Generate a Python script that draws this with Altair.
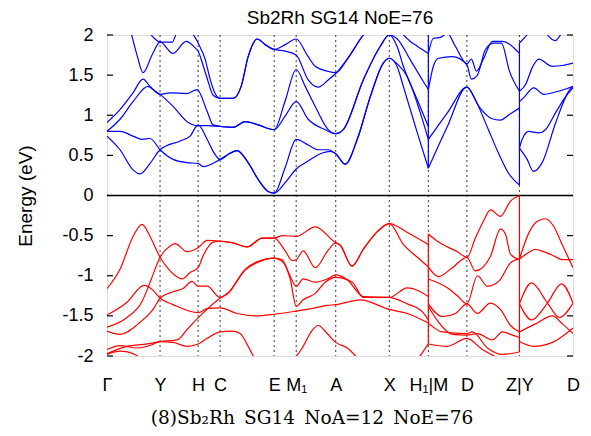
import altair as alt
import pandas as pd

# ---- path coordinates of the high-symmetry points ----
kpoints = [0, 53, 91, 113, 167, 189, 228.5, 282, 321, 359.5, 412, 465.5]
klabels = ["Γ", "Y", "H", "C", "E", "M₁", "A", "X", "H₁|M", "D", "Z|Y", "D"]
jumps = [321, 412]
ytick_values = [-2, -1.5, -1, -0.5, 0, 0.5, 1, 1.5, 2]

title_text = "Sb2Rh SG14 NoE=76"
caption_text = "(8)Sb₂Rh\u2002SG14\u2002NoA=12\u2002NoE=76"

# ---- conduction bands (k, E in eV) ----
conduction = {
    "cA1": ([0, 13, 26, 33, 43, 53, 73, 83, 91, 100, 106, 113, 122, 130, 141, 151, 161, 167, 178, 189, 201, 215, 223, 228.5, 238, 250, 263, 276, 282, 290, 296, 310, 321],
            [0.74, 0.57, 0.32, 0.27, 0.40, 0.57, 0.68, 0.74, 0.88, 0.70, 0.55, 0.45, 0.52, 0.56, 0.41, 0.20, 0.05, 0.03, 0.16, 0.33, 0.43, 0.53, 0.55, 0.52, 0.39, 0.70, 1.23, 1.65, 1.71, 1.60, 1.36, 0.78, 0.34]),
    "cA2": ([0, 13, 26, 35, 43, 53, 66, 80, 91, 96, 113, 122, 130, 141, 151, 161, 167, 178, 189, 201, 211, 221, 228.5, 238, 250, 263, 276, 282, 290, 300, 313, 321],
            [0.80, 0.80, 0.74, 0.70, 0.71, 0.57, 0.45, 0.41, 0.40, 0.36, 0.45, 0.52, 0.56, 0.41, 0.20, 0.05, 0.03, 0.35, 0.70, 0.63, 0.57, 0.57, 0.52, 0.39, 0.70, 1.23, 1.65, 1.71, 1.64, 1.48, 1.03, 0.70]),
    "cA3": ([0, 13, 26, 41, 46, 53, 66, 80, 91, 100, 113, 126, 138, 151, 167, 178, 189, 201, 218, 228.5, 236, 256, 273, 282, 290, 296, 310, 321],
            [0.80, 0.95, 1.17, 1.36, 1.32, 1.26, 1.11, 0.92, 0.87, 0.87, 0.86, 0.85, 0.92, 0.88, 0.82, 0.99, 1.17, 0.95, 0.82, 0.77, 0.82, 1.44, 1.86, 2.00, 1.85, 1.61, 1.19, 0.86]),
    "cA4": ([0, 13, 26, 36, 43, 53, 63, 80, 90, 100, 106, 113, 126, 138, 151, 167, 178, 189, 198, 208, 221, 228.5, 236, 256, 273, 282, 290, 303, 316, 321],
            [0.91, 1.07, 1.28, 1.45, 1.36, 1.26, 1.28, 1.27, 1.32, 1.05, 0.88, 0.86, 0.85, 0.92, 0.88, 0.82, 1.18, 1.57, 1.36, 1.11, 0.82, 0.77, 0.82, 1.44, 1.86, 2.00, 1.95, 1.69, 1.42, 1.32]),
    "cA5": ([0, 20, 25, 30, 36, 45, 53, 66, 79, 88, 91, 96, 101, 106, 113, 126, 134, 141, 150, 158, 167, 178, 189, 201, 211, 221, 228.5, 240, 256, 270, 282, 293, 303, 310, 321],
            [2.6, 2.2, 1.98, 1.75, 1.53, 1.75, 1.91, 1.77, 1.92, 1.84, 1.80, 1.62, 1.42, 1.25, 1.21, 1.21, 1.36, 1.73, 1.95, 1.88, 1.82, 1.80, 1.75, 1.44, 1.35, 1.44, 1.52, 1.70, 2.0, 2.2, 2.3, 2.05, 1.92, 1.86, 1.77]),
    "cA6": ([0, 30, 41, 48, 53, 65, 71, 80, 88, 91, 98, 103, 108, 113, 126, 134, 141, 150, 158, 167, 178, 189, 200, 208, 220, 228.5, 240, 256, 282, 321],
            [3.0, 2.3, 2.05, 1.95, 1.91, 1.91, 2.05, 2.05, 1.97, 1.90, 1.70, 1.45, 1.27, 1.21, 1.21, 1.36, 1.73, 1.95, 1.88, 1.82, 1.88, 1.95, 1.75, 1.61, 1.55, 1.53, 1.70, 2.0, 2.3, 2.2]),
    "cB1": ([321, 340, 359.5, 368, 381, 391, 401, 412],
            [0.34, 0.86, 1.35, 1.19, 0.82, 0.53, 0.28, 0.13]),
    "cB2": ([321, 340, 359.5, 372, 384, 393, 403, 412],
            [0.70, 1.03, 1.35, 1.10, 0.96, 0.94, 1.02, 1.09]),
    "cB3": ([321, 326, 331, 345, 359.5, 364, 370, 378, 386, 394, 402, 412],
            [1.32, 1.61, 1.71, 1.73, 1.63, 1.45, 1.50, 1.82, 1.90, 1.90, 1.55, 1.30]),
    "cB4": ([321, 326, 333, 340, 348, 359.5, 364, 369, 376, 385, 395, 412],
            [1.77, 1.96, 1.97, 2.02, 1.86, 1.64, 1.70, 1.55, 1.70, 1.92, 1.92, 1.77]),
    "cC1": ([412, 419.7, 426, 434.7, 448, 461.3, 465.5],
            [0.59, 0.45, 0.30, 0.41, 0.90, 1.30, 1.36]),
    "cC2": ([412, 414.7, 421.3, 431.3, 438, 448, 458, 465.5],
            [0.59, 0.70, 0.80, 0.78, 0.82, 1.03, 1.23, 1.34]),
    "cC3": ([412, 416.3, 426.3, 436.3, 448, 459, 465.5],
            [1.17, 1.22, 1.34, 1.26, 1.29, 1.33, 1.36]),
    "cC4": ([412, 418, 425, 431.3, 444.7, 455, 465.5],
            [1.30, 1.38, 1.60, 1.70, 1.61, 1.62, 1.65]),
    "cC5": ([412, 418, 425],
            [1.90, 1.98, 2.08]),
    "cC6": ([435, 440, 448, 453, 460],
            [2.10, 2.00, 1.93, 2.00, 2.10]),
}

# ---- valence bands (k, E in eV) ----
valence = {
    "vA1": ([0, 13, 26, 35, 43, 53, 63, 75, 83, 91, 96, 106, 113, 126, 140, 155, 167, 175, 189, 208, 228.5, 233, 244.7, 256, 270, 282, 300, 321],
            [-1.16, -0.92, -0.51, -0.36, -0.51, -0.77, -0.94, -1.04, -0.96, -0.90, -0.75, -0.58, -0.57, -0.59, -0.64, -0.53, -0.53, -0.50, -0.51, -0.39, -0.59, -0.62, -0.88, -0.67, -0.45, -0.35, -0.46, -0.61]),
    "vA2": ([0, 20, 35, 44, 53, 63, 68, 80, 91, 100, 113, 126, 140, 155, 167, 178, 185, 189, 196, 208, 221, 228.5, 233, 244.7, 256, 270, 282, 296, 310, 321],
            [-1.64, -1.52, -1.32, -1.05, -0.77, -0.63, -0.60, -0.70, -0.65, -0.56, -0.57, -0.59, -0.64, -0.53, -0.53, -0.69, -0.81, -0.80, -0.69, -0.90, -0.68, -0.59, -0.62, -0.88, -0.67, -0.45, -0.35, -0.61, -0.77, -0.89]),
    "vA3": ([0, 13, 33, 46, 53, 66, 76, 85, 91, 100, 113, 121, 138, 151, 167, 175, 183, 189, 196, 208, 218, 228.5, 245, 256, 282, 300, 310, 321],
            [-1.69, -1.73, -1.58, -1.42, -1.28, -1.20, -1.16, -1.07, -1.13, -1.13, -1.27, -1.21, -0.92, -0.82, -0.78, -0.82, -1.04, -1.38, -1.30, -1.22, -1.08, -1.02, -1.08, -1.27, -1.27, -1.15, -1.18, -1.26]),
    "vA4": ([0, 20, 40, 53, 70, 80, 93, 113, 121, 138, 151, 167, 175, 181, 189, 196, 208, 220, 228.5, 240, 256, 282, 300, 315, 321],
            [-1.97, -1.88, -1.85, -1.82, -1.80, -1.67, -1.50, -1.28, -1.22, -0.93, -0.83, -0.78, -0.80, -0.95, -1.13, -1.04, -1.08, -1.04, -0.99, -1.05, -1.26, -1.27, -1.35, -1.45, -1.55]),
    "vA5": ([0, 20, 37, 45, 53, 66, 91, 100, 113, 130, 148, 167, 189, 208, 220, 228.5, 253, 282, 300, 321],
            [-1.49, -1.33, -1.12, -1.17, -1.28, -1.36, -1.46, -1.41, -1.40, -1.47, -1.50, -1.48, -1.44, -1.40, -1.37, -1.36, -1.30, -1.42, -1.47, -1.59]),
    "vA6": ([0, 13, 30, 45, 53, 66, 80, 91, 100, 113, 125, 133, 141, 150],
            [-1.92, -1.87, -1.90, -1.86, -1.82, -1.83, -1.88, -1.85, -1.78, -1.70, -1.69, -1.72, -1.88, -2.10]),
    "vA7": ([183, 195, 205, 211, 220, 228.5, 240, 252],
            [-2.10, -1.90, -1.68, -1.62, -1.72, -1.83, -1.90, -2.05]),
    "vA8": ([0, 13, 26, 36],
            [-1.98, -1.94, -1.97, -2.05]),
    "vA9": ([310, 321],
            [-2.05, -1.85]),
    "vB1": ([321, 330, 340, 350, 359.5, 368, 376, 383, 393, 403, 412],
            [-0.48, -0.57, -0.64, -0.70, -0.77, -0.53, -0.32, -0.18, -0.26, -0.07, 0.0]),
    "vB2": ([321, 331, 345, 359.5, 368, 383, 393, 398, 403, 412],
            [-0.89, -1.01, -0.90, -0.77, -0.94, -0.76, -0.42, -0.48, -0.73, -0.80]),
    "vB3": ([321, 340, 350, 359.5, 370, 380, 392, 403, 412],
            [-1.04, -1.15, -1.25, -1.35, -1.00, -1.13, -1.06, -0.84, -0.79]),
    "vB4": ([321, 335, 348, 359.5, 370, 383, 393, 403, 412],
            [-1.35, -1.51, -1.47, -1.35, -1.47, -1.34, -1.42, -1.62, -1.70]),
    "vB5": ([321, 330, 345, 359.5, 370, 385, 395, 405, 412],
            [-1.38, -1.56, -1.73, -1.74, -1.72, -1.80, -1.70, -1.74, -1.77]),
    "vB6": ([321, 335, 359.5, 365, 380, 395, 412],
            [-1.59, -1.70, -1.72, -1.70, -1.90, -1.98, -1.95]),
    "vB7": ([321, 340, 359.5, 375, 395],
            [-1.85, -1.88, -1.78, -1.92, -2.05]),
    "vC1": ([412, 422, 430, 438, 446, 455, 465.5],
            [-0.79, -0.45, -0.32, -0.29, -0.38, -0.62, -0.90]),
    "vC2": ([412, 420, 428, 436, 446, 455, 465.5],
            [-0.79, -0.72, -0.67, -0.70, -0.75, -0.80, -0.80]),
    "vC3": ([412, 424, 440, 452, 465.5],
            [-1.35, -1.09, -1.34, -1.52, -1.34]),
    "vC4": ([412, 424, 440, 454, 465.5],
            [-1.35, -1.55, -1.34, -1.10, -1.34]),
    "vC5": ([412, 428, 445, 455, 465.5],
            [-1.70, -1.60, -1.50, -1.60, -1.72]),
    "vC6": ([412, 426, 445, 465.5],
            [-1.82, -1.88, -1.83, -1.65]),
}

# ---- build tables ----
rows = []
for kind, bands in (("c", conduction), ("v", valence)):
    for name, (ks, es) in bands.items():
        for k, e in zip(ks, es):
            rows.append({"band": name, "kind": kind, "k": k, "E": e})
df = pd.DataFrame(rows)

jrows = []
for kind in ("c", "v"):
    sub = df[df["kind"] == kind]
    for kj in jumps:
        vals = sub[sub["k"] == kj]["E"]
        jrows.append({"kind": kind, "k": kj, "E1": vals.min(), "E2": vals.max()})
jdf = pd.DataFrame(jrows)

vlines = pd.DataFrame({"k": kpoints[1:-1]})
zero = pd.DataFrame({"E": [0]})
yticks = pd.DataFrame({"E": ytick_values})

label_map = "{" + ", ".join(f"'{k:g}': '{lab}'" for k, lab in zip(kpoints, klabels)) + "}"

SANS = "Liberation Sans"
xs = alt.Scale(domain=[kpoints[0], kpoints[-1]], nice=False, zero=False)
ys = alt.Scale(domain=[-2, 2], nice=False, zero=False)

xaxis = alt.Axis(values=kpoints, labelExpr=label_map + "[datum.value]",
                 title=caption_text, titleFont="DejaVu Serif", titleFontSize=18.5,
                 titleFontWeight="normal", titleColor="black",
                 titleX=204.5, titleY=67, titleAlign="center", titleBaseline="alphabetic",
                 ticks=False, domain=False, grid=False,
                 labelFont=SANS, labelFontSize=18, labelColor="black",
                 labelPadding=20, labelFlush=False, labelOverlap=False, labelBound=False,
                 labelAngle=0)
yaxis = alt.Axis(values=ytick_values, labelExpr="'' + datum.value",
                 title="Energy (eV)", titleFont=SANS, titleFontSize=19,
                 titleFontWeight="normal", titleColor="black",
                 titleX=-82, titleY=160.5, titleAngle=270, titleAlign="center",
                 titleBaseline="middle",
                 ticks=False, domain=False, grid=False,
                 labelFont=SANS, labelFontSize=18, labelColor="black",
                 labelPadding=14, labelOverlap=False, labelBound=False)

color = alt.Color("kind:N", scale=alt.Scale(domain=["c", "v"], range=["#0000ff", "#ff0000"]), legend=None)

vl = alt.Chart(vlines).mark_rule(color="#222222", strokeWidth=0.9, strokeDash=[2, 3]).encode(
    x=alt.X("k:Q", scale=xs, axis=xaxis))

zl = alt.Chart(zero).mark_rule(color="black", strokeWidth=1.3).encode(
    y=alt.Y("E:Q", scale=ys, axis=yaxis))

bands = alt.Chart(df).mark_line(interpolate="monotone", clip=True, strokeWidth=1.2).encode(
    x=alt.X("k:Q", scale=xs, axis=xaxis),
    y=alt.Y("E:Q", scale=ys, axis=yaxis),
    color=color,
    detail="band:N",
)

jl = alt.Chart(jdf).mark_rule(clip=True, strokeWidth=1.2).encode(
    x=alt.X("k:Q", scale=xs, axis=xaxis),
    y=alt.Y("E1:Q", scale=ys, axis=yaxis),
    y2="E2:Q",
    color=color,
)

tl = alt.Chart(yticks).mark_rule(color="black", strokeWidth=1.2).encode(
    y=alt.Y("E:Q", scale=ys, axis=yaxis), x=alt.value(0), x2=alt.value(6))
tr = alt.Chart(yticks).mark_rule(color="black", strokeWidth=1.2).encode(
    y=alt.Y("E:Q", scale=ys, axis=yaxis), x=alt.value(460), x2=alt.value(466))

chart = alt.layer(vl, zl, bands, jl, tl, tr).properties(
    width=466, height=321,
    title=alt.TitleParams(title_text, font=SANS, fontSize=19, fontWeight="normal",
                          color="black", anchor="middle", offset=-2),
    padding={"left": 99, "top": 27, "right": 10, "bottom": 72},
    autosize=alt.AutoSizeParams(type="none"),
).configure_view(stroke="black", strokeWidth=1.5).configure(background="white")

chart.save("out.html", embed_options={"renderer": "svg", "actions": False})
